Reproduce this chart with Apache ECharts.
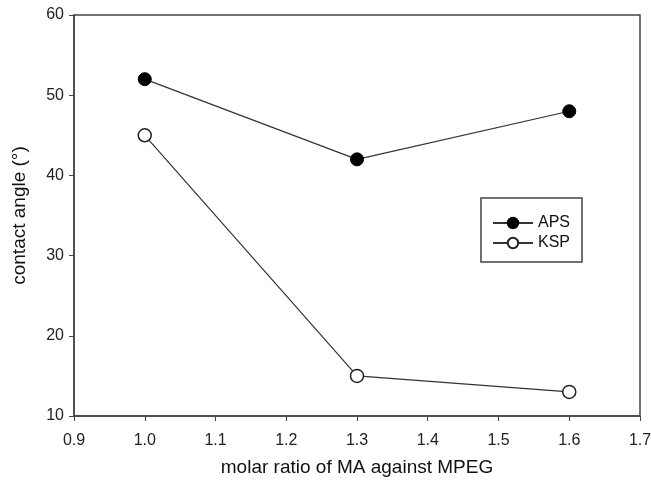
<!DOCTYPE html>
<html>
<head>
<meta charset="utf-8">
<script src="https://cdn.jsdelivr.net/npm/echarts@6/dist/echarts.min.js"></script>
<style>
  html, body { margin: 0; padding: 0; background: #fff; }
  #chart { width: 651px; height: 481px; }
</style>
</head>
<body>
<div id="chart"></div>
<script>
var ratios = [1.0, 1.3, 1.6];
var apsValues = [52, 42, 48];
var kspValues = [45, 15, 13];

var toPairs = function(xs, ys) {
    var out = [];
    for (var i = 0; i < xs.length; i++) {
        out.push([xs[i], ys[i]]);
    }
    return out;
};

var axisColor = '#444';
var fontName = 'Liberation Sans';

var chart = echarts.init(document.getElementById('chart'));
chart.setOption({
    animation: false,
    grid: {
        left: 74,
        right: 11,
        top: 15,
        bottom: 65,
        outerBoundsMode: 'none',
        show: true,
        borderColor: axisColor,
        borderWidth: 1.5
    },
    legend: {
        right: 69,
        top: 198,
        orient: 'vertical',
        padding: [17, 12, 11, 11],
        itemGap: 4,
        itemWidth: 40,
        itemHeight: 13,
        borderColor: axisColor,
        borderWidth: 1.5,
        textStyle: { color: '#111', fontFamily: fontName, fontSize: 16 },
        data: ['APS', 'KSP']
    },
    xAxis: {
        type: 'value',
        min: 0.9,
        max: 1.7,
        interval: 0.1,
        name: 'molar ratio of MA against MPEG',
        nameLocation: 'middle',
        nameGap: 42,
        nameTextStyle: { color: '#111', fontFamily: fontName, fontSize: 19 },
        axisLine: { lineStyle: { color: axisColor, width: 1.5 } },
        axisTick: { show: true, length: 5, lineStyle: { color: axisColor } },
        axisLabel: {
            color: '#222', fontFamily: fontName, fontSize: 16, margin: 17,
            formatter: function(v) { return v.toFixed(1); }
        },
        splitLine: { show: false }
    },
    yAxis: {
        type: 'value',
        min: 10,
        max: 60,
        interval: 10,
        name: 'contact angle (°)',
        nameLocation: 'middle',
        nameGap: 45,
        nameTextStyle: { color: '#111', fontFamily: fontName, fontSize: 19 },
        axisLine: { show: true, lineStyle: { color: axisColor, width: 1.5 } },
        axisTick: { show: true, length: 5, lineStyle: { color: axisColor } },
        axisLabel: { color: '#222', fontFamily: fontName, fontSize: 16, margin: 10 },
        splitLine: { show: false }
    },
    series: [{
        name: 'APS',
        type: 'line',
        symbol: 'circle',
        symbolSize: 13,
        itemStyle: { color: '#000', borderColor: '#000', borderWidth: 1 },
        lineStyle: { color: '#333', width: 1.2 },
        data: toPairs(ratios, apsValues)
    }, {
        name: 'KSP',
        type: 'line',
        symbol: 'circle',
        symbolSize: 13,
        itemStyle: { color: '#fff', borderColor: '#222', borderWidth: 1.5 },
        lineStyle: { color: '#333', width: 1.2 },
        data: toPairs(ratios, kspValues)
    }]
});
</script>
</body>
</html>
